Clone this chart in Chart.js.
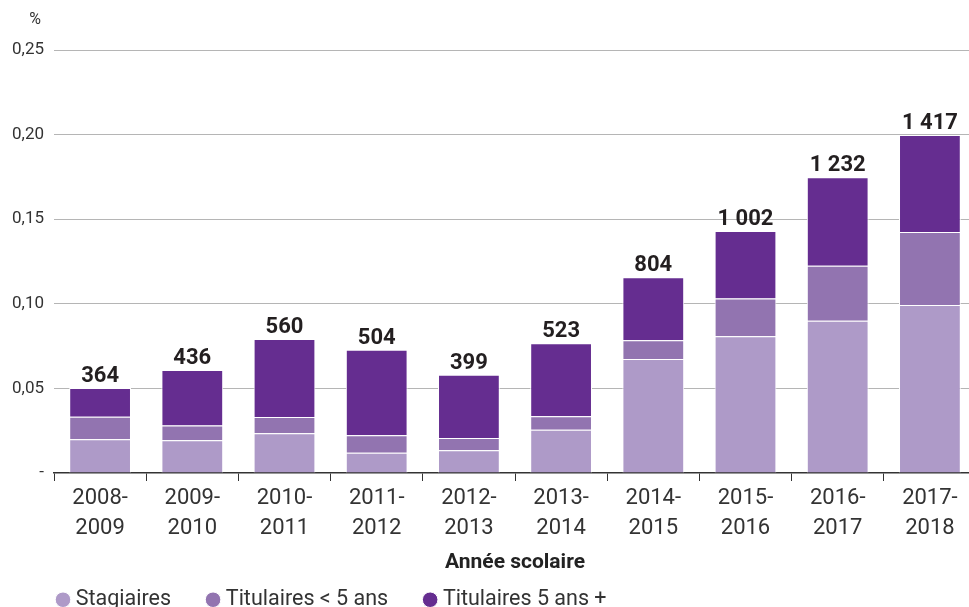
<!DOCTYPE html>
<html>
<head>
<meta charset="utf-8">
<script src="https://cdn.jsdelivr.net/npm/chart.js@4"></script>
<style>
  html, body { margin: 0; padding: 0; background: #fff; overflow: hidden; }
  #wrap { width: 969px; height: 607px; overflow: hidden; }
  #box { width: 990px; height: 614px; }
</style>
</head>
<body>
<div id="wrap"><div id="box"><canvas id="ratioChart"></canvas></div></div>
<script>
    var years = [['2008-', '2009'], ['2009-', '2010'], ['2010-', '2011'], ['2011-', '2012'], ['2012-', '2013'],
                 ['2013-', '2014'], ['2014-', '2015'], ['2015-', '2016'], ['2016-', '2017'], ['2017-', '2018']];
    var stagiaires   = [0.0199, 0.0193, 0.0235, 0.0120, 0.0134, 0.0256, 0.0674, 0.0808, 0.0900, 0.0993];
    var titMoins5    = [0.0134, 0.0087, 0.0096, 0.0103, 0.0073, 0.0079, 0.0110, 0.0224, 0.0325, 0.0431];
    var titPlus5     = [0.0169, 0.0329, 0.0461, 0.0506, 0.0374, 0.0432, 0.0373, 0.0398, 0.0523, 0.0574];
    var totals       = [364, 436, 560, 504, 399, 523, 804, 1002, 1232, 1417];
    var yTicks       = [0, 0.05, 0.10, 0.15, 0.20, 0.25];

    var font = "Roboto, 'Noto Sans', sans-serif";

    function fmtThousands(n) {
        return String(n).replace(/\B(?=(\d{3})+(?!\d))/g, ' ');
    }

    // totals above each stacked bar, the "%" unit, and legend placement
    var extras = {
        id: 'extras',
        afterLayout: function (chart) {
            // legend sits a bit further right / lower than Chart.js puts it
            chart.legend.left = 21;
            chart.legend.top = 549;
        },
        afterDatasetsDraw: function (chart) {
            var ctx = chart.ctx;
            var top = chart.getDatasetMeta(chart.data.datasets.length - 1);
            ctx.save();
            ctx.fillStyle = '#231f20';
            ctx.font = 'bold 22px ' + font;
            ctx.textAlign = 'center';
            ctx.textBaseline = 'alphabetic';
            top.data.forEach(function (bar, i) {
                ctx.fillText(fmtThousands(totals[i]), bar.x, bar.y - 6);
            });
            ctx.font = '16px ' + font;
            ctx.fillStyle = '#333';
            ctx.textBaseline = 'middle';
            ctx.fillText('%', 35, 20);
            ctx.restore();
        }
    };

    var ctx = document.getElementById('ratioChart').getContext('2d');
    var ratioChart = new Chart(ctx, {
        type: 'bar',
        data: {
            labels: years,
            datasets: [{
                label: 'Stagiaires',
                data: stagiaires,
                backgroundColor: '#ae9ac8',
                borderColor: '#ffffff',
                borderWidth: 1
            }, {
                label: 'Titulaires < 5 ans',
                data: titMoins5,
                backgroundColor: '#9274b0',
                borderColor: '#ffffff',
                borderWidth: 1
            }, {
                label: 'Titulaires 5 ans +',
                data: titPlus5,
                backgroundColor: '#652d90',
                borderColor: '#ffffff',
                borderWidth: 1
            }]
        },
        options: {
            responsive: true,
            maintainAspectRatio: false,
            animation: false,
            datasets: { bar: { barPercentage: 0.67, categoryPercentage: 1 } },
            layout: { padding: { top: 50, left: 0, right: 14, bottom: 0 } },
            plugins: {
                tooltip: { enabled: false },
                legend: {
                    position: 'bottom',
                    align: 'start',
                    maxHeight: 32,
                    labels: {
                        usePointStyle: true,
                        pointStyle: 'circle',
                        boxWidth: 4,
                        boxHeight: 11,
                        padding: 40,
                        color: '#333',
                        font: { family: font, size: 21.5 }
                    }
                }
            },
            scales: {
                x: {
                    stacked: true,
                    afterFit: function (s) { s.height = 109; },
                    grid: {
                        offset: true,
                        drawOnChartArea: false,
                        drawTicks: true,
                        tickLength: 8,
                        color: '#333'
                    },
                    border: { color: '#333', width: 1.5 },
                    ticks: {
                        color: '#333',
                        padding: 3,
                        font: { family: font, size: 22, lineHeight: 1.35 }
                    },
                    title: {
                        display: true,
                        text: 'Année scolaire',
                        color: '#222',
                        padding: { top: 6, bottom: 7 },
                        font: { family: font, size: 21, weight: 'bold' }
                    }
                },
                y: {
                    stacked: true,
                    min: 0,
                    max: 0.25,
                    afterFit: function (s) { s.width = 54; },
                    afterBuildTicks: function (s) { s.ticks = yTicks.map(function (v) { return { value: v }; }); },
                    border: { display: false },
                    grid: {
                        drawTicks: false,
                        color: function (c) { return c.tick && c.tick.value === 0 ? 'rgba(0,0,0,0)' : '#b5b5b5'; },
                        lineWidth: 1
                    },
                    ticks: {
                        color: '#333',
                        padding: 10,
                        font: { family: font, size: 17 },
                        callback: function (v) { return v === 0 ? '-' : v.toFixed(2).replace('.', ','); }
                    }
                }
            }
        },
        plugins: [extras]
    });
</script>
</body>
</html>
